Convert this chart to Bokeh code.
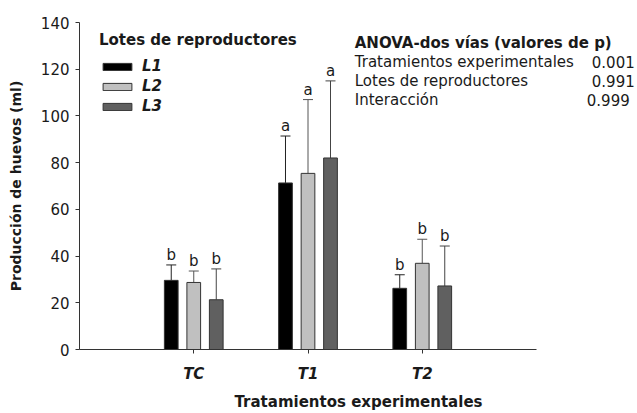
from bokeh.plotting import figure
from bokeh.models import (Range1d, Whisker, ColumnDataSource, Legend,
                          LegendItem, Label, TeeHead, FixedTicker)
from bokeh.transform import dodge
from bokeh.embed import file_html
from bokeh.resources import INLINE
from bokeh.core.properties import value

# ---------------- data ----------------
treatments = ["TC", "T1", "T2"]
lots = ["L1", "L2", "L3"]
L1_mean = [29.6, 71.3, 26.2]
L1_upper = [36.2, 91.4, 32.0]
L2_mean = [28.7, 75.4, 36.9]
L2_upper = [33.6, 107.0, 47.2]
L3_mean = [21.3, 82.0, 27.2]
L3_upper = [34.5, 115.0, 44.3]
L1_letters = ["b", "a", "b"]
L2_letters = ["b", "a", "b"]
L3_letters = ["b", "a", "b"]
y_ticks = [0, 20, 40, 60, 80, 100, 120, 140]
anova_title = "ANOVA-dos vías (valores de p)"
anova_factors = ["Tratamientos experimentales", "Lotes de reproductores", "Interacción"]
anova_p = ["0.001", "0.991", "0.999"]
legend_title = "Lotes de reproductores"
x_title = "Tratamientos experimentales"
y_title = "Producción de huevos (ml)"

FONT = "DejaVu Sans"
TXT = "#1a1a1a"
AX = "#333333"

W, H = 637, 413
LEFT, TOP, AXIS_RIGHT, BOTTOM = 79, 22, 536, 352
n_slots = len(treatments) + 1
x_end = n_slots * (W - LEFT) / (AXIS_RIGHT - LEFT)

cat_pos = list(range(1, len(treatments) + 1))

p = figure(x_range=Range1d(0, x_end), y_range=Range1d(0, 140),
           width=W, height=H, output_backend="svg", toolbar_location=None,
           min_border_left=LEFT, min_border_right=0, min_border_top=TOP,
           min_border_bottom=H - BOTTOM)
p.outline_line_color = None
p.xgrid.visible = False
p.ygrid.visible = False
p.background_fill_color = "white"
p.border_fill_color = "white"

series = [
    ("L1", L1_mean, L1_upper, L1_letters, "#000000", -0.197, "#222222"),
    ("L2", L2_mean, L2_upper, L2_letters, "#c0c0c0", 0.0, "#555555"),
    ("L3", L3_mean, L3_upper, L3_letters, "#606060", 0.197, "#444444"),
]
items = []
for name, m, u, let, col, off, wcol in series:
    src = ColumnDataSource(dict(x=cat_pos, m=m, u=u, let=let))
    xs = dodge("x", off)
    w = Whisker(base=xs, lower="m", upper="u", source=src,
                line_color=wcol, line_width=1,
                upper_head=TeeHead(size=10, line_color=wcol, line_width=1),
                lower_head=None)
    p.add_layout(w)
    r = p.vbar(x=xs, top="m", width=0.12, source=src, fill_color=col,
               line_color=AX, line_width=1)
    p.text(x=xs, y="u", text="let", source=src, y_offset=-10,
           text_align="center", text_baseline="alphabetic",
           text_font=value(FONT), text_font_size="15px", text_color=TXT)
    items.append(LegendItem(label=value(name), renderers=[r]))

legend = Legend(items=items, title=legend_title, location=(20, 233),
                orientation="vertical", padding=0, margin=0, spacing=0,
                glyph_width=36, glyph_height=9, label_height=20,
                label_standoff=7, title_standoff=7,
                border_line_alpha=0, background_fill_alpha=0,
                label_text_font=FONT, label_text_font_size="15px",
                label_text_font_style="bold italic", label_text_color=TXT,
                title_text_font=FONT, title_text_font_size="15px",
                title_text_font_style="bold", title_text_color=TXT)
p.add_layout(legend)

# ANOVA block
X0 = 1 + (355 - LEFT - (194 - LEFT)) / ((AXIS_RIGHT - LEFT) / n_slots)
XR = 1 + (635 - 194) / ((AXIS_RIGHT - LEFT) / n_slots)
XR2 = 1 + (630 - 194) / ((AXIS_RIGHT - LEFT) / n_slots)
p.add_layout(Label(x=X0, y=131.2, text=anova_title, text_font=FONT,
                   text_font_size="15px", text_font_style="bold",
                   text_color=TXT, text_baseline="alphabetic"))
for i, (f, pv) in enumerate(zip(anova_factors, anova_p)):
    yy = 123.0 - i * 8.05
    p.add_layout(Label(x=X0, y=yy, text=f, text_font=FONT,
                       text_font_size="15px", text_color=TXT,
                       text_baseline="alphabetic"))
    p.add_layout(Label(x=XR if i < 2 else XR2, y=yy, text=pv, text_font=FONT,
                       text_font_size="15px", text_color=TXT,
                       text_align="right", text_baseline="alphabetic"))

# axes
for ax in (p.xaxis[0], p.yaxis[0]):
    ax.axis_line_color = AX
    ax.major_tick_line_color = AX
    ax.minor_tick_line_color = None
    ax.major_tick_in = 0
    ax.major_tick_out = 4
    ax.major_label_text_font = FONT
    ax.major_label_text_color = TXT
    ax.axis_label_text_font = FONT
    ax.axis_label_text_font_style = "bold"
    ax.axis_label_text_color = TXT

p.yaxis.ticker = FixedTicker(ticks=y_ticks)
p.yaxis.major_label_text_font_size = "15px"
p.yaxis.major_label_standoff = 6
p.yaxis.axis_label = y_title
p.yaxis.axis_label_text_font_size = "14px"
p.yaxis.axis_label_standoff = 14

p.xaxis.bounds = (0, n_slots)
p.xaxis.ticker = FixedTicker(ticks=cat_pos)
p.xaxis.major_label_overrides = {c: t for c, t in zip(cat_pos, treatments)}
p.xaxis.major_label_text_font_size = "15px"
p.xaxis.major_label_text_font_style = "bold italic"
p.xaxis.major_label_standoff = 11
p.xaxis.axis_label = x_title
p.xaxis.axis_label_text_font_size = "15px"
p.xaxis.axis_label_standoff = 7

open("out.html", "w").write(file_html(p, INLINE))
